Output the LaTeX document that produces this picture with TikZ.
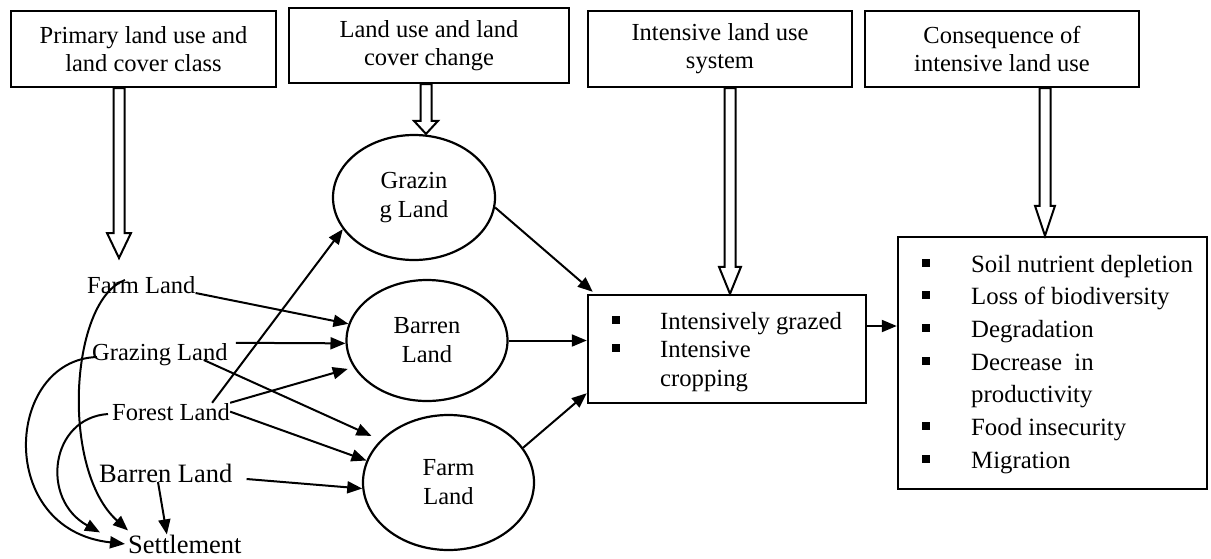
\documentclass[tikz,border=0pt]{standalone}
\usepackage{fontspec}
\setmainfont{Liberation Serif}
\usetikzlibrary{arrows.meta,calc,shapes.geometric}
\newcommand{\hollowarrow}[4]{%
  \draw[harrow] ($(#1)+(-5.5,0)$) -- ($(#2)+(-5.5,-#4)$) -- ($(#2)+(-#3,-#4)$) -- (#2)
    -- ($(#2)+(#3,-#4)$) -- ($(#2)+(5.5,-#4)$) -- ($(#1)+(5.5,0)$) -- cycle;}
\begin{document}
\begin{tikzpicture}[x=1pt,y=-1pt,
  font=\fontsize{24.5}{28}\selectfont,
  hbox/.style={draw, line width=2.4pt, align=center, inner sep=0pt},
  rbox/.style={draw, line width=2.4pt, inner sep=0pt},
  ell/.style={draw, ellipse, line width=2.2pt, align=center, inner sep=0pt, font=\fontsize{24.5}{29}\selectfont},
  lab/.style={inner sep=0pt, anchor=base west},
  biglab/.style={lab, font=\fontsize{26.5}{30}\selectfont},
  conn/.style={line width=2pt, -{Triangle[length=15pt,width=12pt]}},
  harrow/.style={line width=2pt, line join=miter, fill=white}]
\useasboundingbox (0,0) rectangle (1211,558);
% header boxes
\node[hbox, minimum width=265pt, minimum height=76pt] (b1) at (143.5,49) {Primary land use and\\land cover class};
\node[hbox, minimum width=280pt, minimum height=75pt] (b2) at (429,45.5) {Land use and land\\cover change};
\node[hbox, minimum width=264pt, minimum height=76pt] (b3) at (720,49) {Intensive land use\\system};
\node[hbox, minimum width=274pt, minimum height=76pt] (b4) at (1002,49) {Consequence of\\intensive land use};
% ellipses
\node[ell, minimum width=162pt, minimum height=125pt] (gz) at (414,197.5) {Grazin\\g Land};
\node[ell, minimum width=161pt, minimum height=121pt] (br) at (427,340.5) {Barren\\Land};
\node[ell, minimum width=171pt, minimum height=135pt] (fm) at (448.5,482.5) {Farm\\Land};
% left labels
\node[lab] (lfarm) at (87,293) {Farm Land};
\node[lab] (lgraz) at (92,360) {Grazing Land};
\node[lab] (lfor) at (112,420) {Forest Land};
\node[biglab] (lbar) at (99,482) {Barren Land};
\node[biglab] (lset) at (128,553) {Settlement};
% system box and consequence box
\node[rbox, minimum width=278pt, minimum height=108pt] (ib) at (727,349) {};
\node[rbox, minimum width=309pt, minimum height=252pt] (rb) at (1052.5,363) {};
\node[inner sep=0pt, anchor=base west] (ibt) at (612,329) {\fontsize{24.7}{28.5}\selectfont
  \begin{tabular}[t]{@{}p{48pt}@{}l@{}}
  \rule[5.5pt]{8pt}{8pt} & Intensively grazed\\
  \rule[5.5pt]{8pt}{8pt} & Intensive\\
   & cropping
  \end{tabular}};
\node[inner sep=0pt, anchor=base west] (rbt) at (922,272) {\fontsize{24.8}{32.7}\selectfont
  \begin{tabular}[t]{@{}p{49pt}@{}l@{}}
  \rule[5.5pt]{8pt}{8pt} & Soil nutrient depletion\\
  \rule[5.5pt]{8pt}{8pt} & Loss of biodiversity\\
  \rule[5.5pt]{8pt}{8pt} & Degradation\\
  \rule[5.5pt]{8pt}{8pt} & Decrease\ \ in\\
   & productivity\\
  \rule[5.5pt]{8pt}{8pt} & Food insecurity\\
  \rule[5.5pt]{8pt}{8pt} & Migration
  \end{tabular}};
% hollow arrows
\coordinate (t1) at (119,258);
\coordinate (s1) at (t1 |- b1.south);
\coordinate (t2) at ([xshift=12pt]gz.north);
\coordinate (s2) at (t2 |- b2.south);
\coordinate (t3) at ([xshift=3pt]ib.north);
\coordinate (s3) at (t3 |- b3.south);
\coordinate (t4) at ([xshift=-7.5pt]rb.north);
\coordinate (s4) at (t4 |- b4.south);
\hollowarrow{s1}{t1}{12}{25}
\hollowarrow{s2}{t2}{12}{13}
\hollowarrow{s3}{t3}{11}{27}
\hollowarrow{s4}{t4}{10}{30}
% connectors from left labels
\draw[conn] (lfarm.base east) -- (br.168);
\draw[conn] ([xshift=8pt]lgraz.north east) -- (br.182);
\draw[conn, shorten >=10pt] ([xshift=-24pt]lgraz.base east) -- (fm.148);
\draw[conn] ([xshift=-18pt]lfor.north east) -- (gz.204);
\draw[conn, shorten >=6pt] (lfor.north east) -- (br.200);
\draw[conn] (lfor.east) -- (fm.165);
\draw[conn] ([xshift=14pt,yshift=3pt]lbar.base east) -- (fm.184);
\draw[conn] ([xshift=59pt]lbar.base west) -- ([xshift=-18pt]lset.north);
% curves to settlement
\draw[conn] ([xshift=38pt,yshift=13pt]lfarm.base west) .. controls +(-55,20) and +(-68,-61) .. ([yshift=4pt]lset.north west);
\draw[conn] ([xshift=5pt,yshift=3pt]lgraz.base west) .. controls +(-92,3) and +(-130,-14) .. ([xshift=-3pt]lset.west);
\draw[conn] ([xshift=-4pt,yshift=6pt]lfor.base west) .. controls +(-58,4) and +(-60,-33) .. ([xshift=-28pt,yshift=2pt]lset.north west);
% connectors between ellipses and boxes
\draw[conn] (gz.-7) -- ([xshift=6pt,yshift=2pt]ib.north west);
\draw[conn] (br.east) -- (br.east -| ib.west);
\draw[conn] (fm.25) -- ([yshift=11pt]ib.south west);
\draw[conn] ([yshift=23pt]ib.east) -- ([yshift=23pt]ib.east -| rb.west);
\end{tikzpicture}
\end{document}
